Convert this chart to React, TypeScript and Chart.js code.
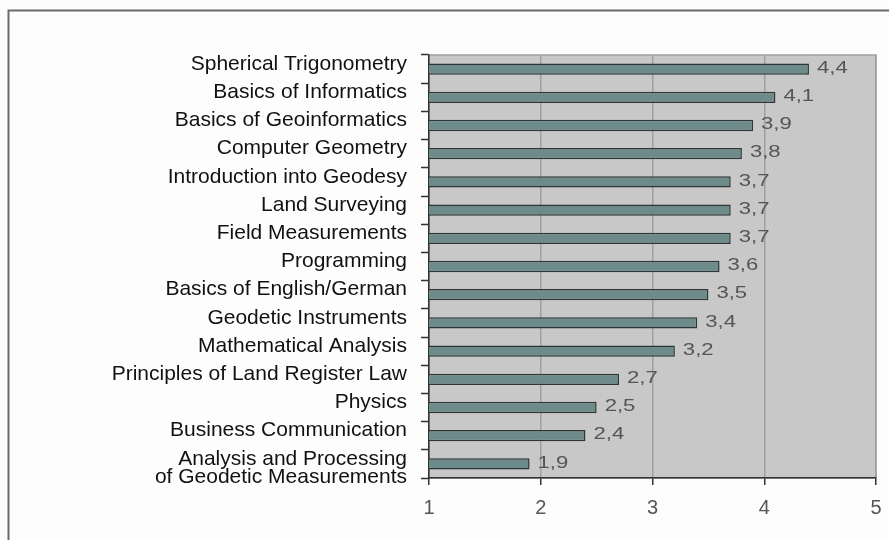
import React, { useEffect, useRef } from "react";
import { Chart, registerables } from "chart.js";

Chart.register(...registerables);

const categories: (string | string[])[] = [
  "Spherical Trigonometry",
  "Basics of Informatics",
  "Basics of Geoinformatics",
  "Computer Geometry",
  "Introduction into Geodesy",
  "Land Surveying",
  "Field Measurements",
  "Programming",
  "Basics of English/German",
  "Geodetic Instruments",
  "Mathematical Analysis",
  "Principles of Land Register Law",
  "Physics",
  "Business Communication",
  ["", "Analysis and Processing", "of Geodetic Measurements"],
];

const values: number[] = [4.4, 4.1, 3.9, 3.8, 3.7, 3.7, 3.7, 3.6, 3.5, 3.4, 3.2, 2.7, 2.5, 2.4, 1.9];

const xTicks: number[] = [1, 2, 3, 4, 5];

const frame = {
  id: "frame",
  beforeDraw(chart: any) {
    const { ctx, chartArea } = chart;
    ctx.save();
    ctx.fillStyle = "#fdfdfd";
    ctx.fillRect(0, 0, chart.width, chart.height);
    ctx.strokeStyle = "#6a6a6a";
    ctx.lineWidth = 2;
    ctx.strokeRect(8.5, 10.5, 2000, 2000);
    ctx.fillStyle = "#c8c8c8";
    ctx.fillRect(chartArea.left, chartArea.top, chartArea.right - chartArea.left, chartArea.bottom - chartArea.top);
    ctx.strokeStyle = "#a0a0a0";
    ctx.lineWidth = 1.5;
    ctx.strokeRect(chartArea.left, chartArea.top, chartArea.right - chartArea.left, chartArea.bottom - chartArea.top);
    ctx.restore();
  },
};

const valueLabels = {
  id: "valueLabels",
  afterDatasetsDraw(chart: any) {
    const { ctx } = chart;
    const meta = chart.getDatasetMeta(0);
    meta.data.forEach((bar: any, i: number) => {
      const txt = values[i].toFixed(1).replace(".", ",");
      ctx.save();
      ctx.font = "17px 'Liberation Sans', Arial, sans-serif";
      ctx.fillStyle = "#555555";
      ctx.textAlign = "left";
      ctx.textBaseline = "middle";
      ctx.translate(bar.x + 8, bar.y - 1);
      ctx.scale(1.3, 1);
      ctx.fillText(txt, 0, 0);
      ctx.restore();
    });
  },
};

export default function App() {
  const ref = useRef<HTMLCanvasElement | null>(null);

  useEffect(() => {
    if (!ref.current) return;
    const chart = new Chart(ref.current, {
      type: "bar",
      data: {
        labels: categories,
        datasets: [
          {
            data: values,
            backgroundColor: "#6e8b8b",
            borderColor: "#2f3434",
            borderWidth: 1.5,
            borderSkipped: false,
            barPercentage: 0.4,
            categoryPercentage: 1,
          },
        ],
      },
      options: {
        indexAxis: "y",
        animation: false,
        responsive: false,
        maintainAspectRatio: false,
        layout: { padding: { top: 55, right: 13, left: 0, bottom: 0 } },
        plugins: {
          legend: { display: false },
          tooltip: { enabled: false },
        },
        scales: {
          x: {
            type: "linear",
            min: 1,
            max: 5,
            afterBuildTicks: (scale: any) => {
              scale.ticks = xTicks.map((v) => ({ value: v }));
            },
            afterFit: (scale: any) => {
              scale.height = 62;
              scale.paddingLeft = 0;
              scale.paddingRight = 0;
            },
            grid: {
              color: "#a0a0a0",
              lineWidth: 1.5,
              drawTicks: true,
              tickLength: 7,
              tickColor: "#333333",
              tickWidth: 1.5,
            },
            border: { display: true, color: "#333333", width: 1.5 },
            ticks: {
              color: "#555555",
              font: { family: "'Liberation Sans', Arial, sans-serif", size: 20 },
              padding: 11,
              maxRotation: 0,
            },
          },
          y: {
            type: "category",
            afterFit: (scale: any) => {
              scale.width = 429;
            },
            grid: {
              offset: true,
              drawOnChartArea: false,
              drawTicks: true,
              tickLength: 8,
              tickColor: "#333333",
              tickWidth: 1.5,
            },
            border: { display: true, color: "#333333", width: 1.5 },
            ticks: {
              color: "#111111",
              font: { family: "'Liberation Sans', Arial, sans-serif", size: 21, lineHeight: 0.88 },
              padding: 14,
              labelOffset: -5,
              autoSkip: false,
            },
          },
        },
      },
      plugins: [frame, valueLabels],
    } as any);
    return () => chart.destroy();
  }, []);

  return (
    <div style={{ position: "fixed", left: 0, top: 0, width: 889, height: 540 }}>
      <canvas ref={ref} width={889} height={540} style={{ width: 889, height: 540, display: "block" }} />
    </div>
  );
}
